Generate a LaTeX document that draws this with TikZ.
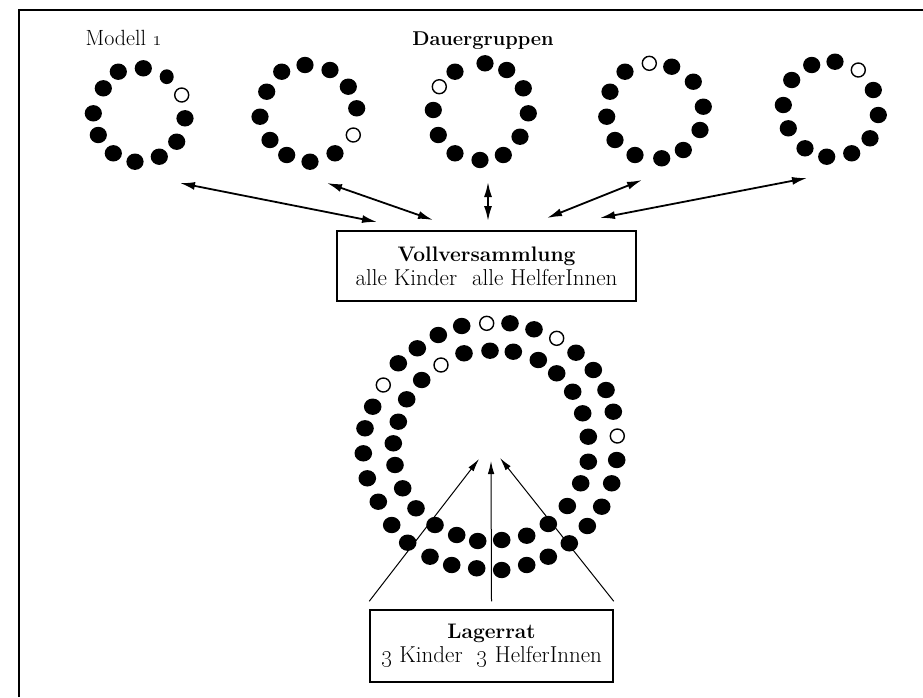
\documentclass[tikz,border=0pt]{standalone}
\usetikzlibrary{arrows.meta}
\begin{document}
\begin{tikzpicture}[x=1pt,y=-1pt,
  lbl/.style={font=\fontsize{22}{24}\selectfont},
  blbl/.style={font=\fontsize{20}{24}\selectfont\bfseries},
  boxnode/.style={draw, line width=1.5pt, align=center, inner sep=0pt,
    font=\fontsize{23}{24}\selectfont},
  dbl/.style={{Latex[length=15pt,width=8pt]}-{Latex[length=15pt,width=8pt]}, line width=1.8pt},
  up/.style={-{Latex[length=13pt,width=6.5pt]}, line width=1pt},
  opendot/.style={draw=black, fill=white, line width=1.4pt}]
\useasboundingbox (0,0) rectangle (923,697);
% frame
\draw[line width=1.8pt] (19,697) -- (19,10) -- (923,10);

% titles
\node[lbl, anchor=base] (modell) at (124,45) {Modell \oldstylenums{1}};
\node[blbl, anchor=base] (dauer) at (483,45) {Dauergruppen};

% small rings: filled dots
\foreach \x/\y in {118.3/71.7, 143.3/68.3, 185/118.3, 176.7/141.7, 159.3/156.7,
  135/161.7, 113.3/153.3, 98.3/135, 93.3/113.3, 103.3/88.3,
  281.7/71.7, 305/65, 330/70, 348.3/86.7, 356.7/108.3, 335/153.3, 310/161.7,
  286.7/155, 270/140, 260/116.7, 266.7/91.7,
  455/71.7, 485/63.3, 506.7/70, 523.3/88.3, 528.3/113.3, 520/136.7, 503.3/155,
  480/160, 455/153.3, 438.3/135, 433.3/110,
  671.7/66.7, 693.3/81.7, 703.3/106.7, 700/130, 683.3/150, 661.7/158.3, 635/155,
  615/140, 606.7/116.7, 610/91.7, 625/71.7,
  811.7/65, 835/61.7, 873.3/90, 878.3/115, 870/138.3, 851.7/153.3, 826.7/156.7,
  805/148.3, 788.3/128.3, 783.3/105, 791.7/80}
  \fill (\x,\y) ellipse[x radius=8.6, y radius=8.2];
\fill (166.7,76.7) ellipse[x radius=7, y radius=7.4];
% small rings: open dots
\foreach \x/\y in {181.7/95, 353.3/135, 439.3/86.7, 649.3/63.3, 858.3/70}
  \draw[opendot] (\x,\y) circle[radius=7];

% big ring: outer
\foreach \x/\y in {510/323.3, 534/329.3, 576/352.7, 593.3/370, 606/390, 613.3/411.7,
  616.7/460, 611.7/483.3, 601.7/506.7, 587.3/526, 569.3/543.3, 548.3/556.7,
  526.7/565, 501.7/570, 476.7/568.3, 451.7/565, 430/556.7, 407.7/542.7,
  391.7/525, 378.3/501.7, 367.3/478.3, 363.3/453.3, 365/428.3, 372.7/406.7,
  398.3/363.3, 417.3/348.3, 438.3/335, 461.7/326}
  \fill (\x,\y) ellipse[x radius=8.8, y radius=8.2];
% big ring: inner
\foreach \x/\y in {490/350.7, 513.3/351.7, 538.3/360, 556.7/373.3, 572.7/391.7,
  582.7/413.3, 588.3/436.7, 588.3/461.7, 580.7/483.3, 567.3/506, 548.3/524,
  526.7/535.7, 501.7/540, 477.7/541, 456.7/535, 435/525, 416/508.3, 402.7/488.3,
  395/465, 393.3/443.3, 398.3/421.7, 406.7/399.3, 421.7/380, 464/353.3}
  \fill (\x,\y) ellipse[x radius=8.8, y radius=8.2];
\foreach \x/\y in {486.7/323.3, 556.7/338.3, 617.3/436, 383.3/385, 441/365}
  \draw[opendot] (\x,\y) circle[radius=7];

% boxes
\node[boxnode, minimum width=299pt, minimum height=70pt] (voll) at (486.5,266)
  {{\fontsize{21}{24}\selectfont\bfseries Vollversammlung}\\alle Kinder\hspace{15pt}alle HelferInnen};
\node[boxnode, minimum width=243pt, minimum height=72pt] (lager) at (491.5,646)
  {{\fontsize{21}{24}\selectfont\bfseries Lagerrat}\\\oldstylenums{3} Kinder\hspace{14pt}\oldstylenums{3} HelferInnen};

% arrow ends near the rings and the assembly box
\coordinate (r1) at (180,183);  \coordinate (v1) at (377,222);
\coordinate (r2) at (327,183);  \coordinate (v2) at (433,220);
\coordinate (r3) at (488,182);  \coordinate (v3) at (488,221);
\coordinate (r4) at (642,180);  \coordinate (v4) at (547,218);
\coordinate (r5) at (807,178);  \coordinate (v5) at (600,218);
\foreach \i in {1,...,5} \draw[dbl] (r\i) -- (v\i);

% arrows from the council into the big ring
\coordinate (tipL) at (479,459);
\coordinate (tipM) at (491,461);
\coordinate (tipR) at (500,458);
\draw[up] ([yshift=8pt]lager.north west) -- (tipL);
\draw[up] ([yshift=8pt]lager.north) -- (tipM);
\draw[up] ([yshift=8pt]lager.north east) -- (tipR);
\end{tikzpicture}
\end{document}
